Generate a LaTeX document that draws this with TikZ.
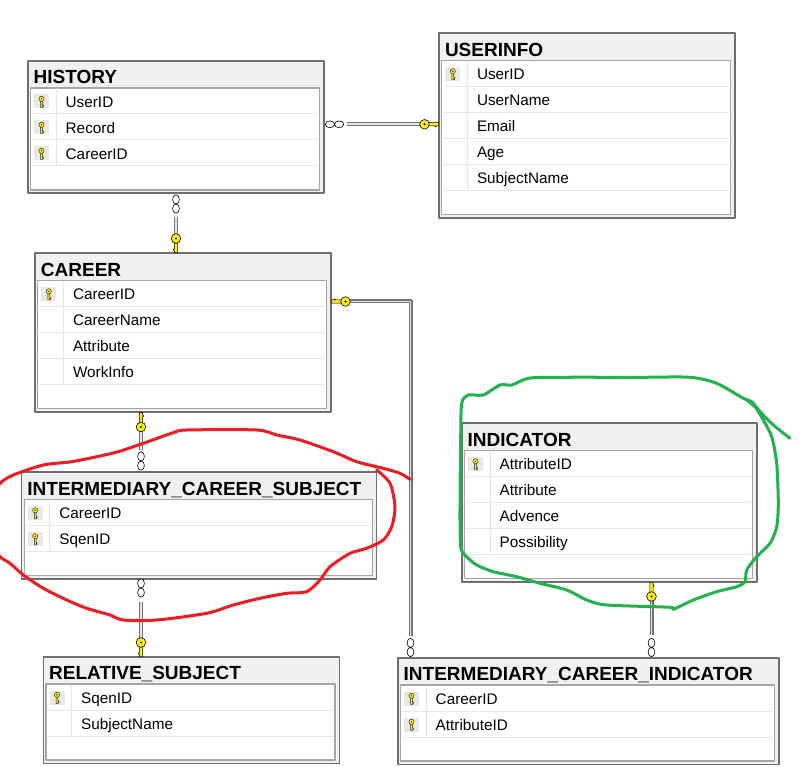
\documentclass[tikz,border=0pt]{standalone}
\usepackage{fontspec}
\setmainfont{Liberation Sans}
\usetikzlibrary{calc}
\definecolor{tbl_border}{RGB}{110,110,110}
\definecolor{title_gray}{RGB}{240,240,240}
\definecolor{inner_gray}{RGB}{165,165,165}
\definecolor{row_gray}{RGB}{230,230,230}
\definecolor{cell_gray}{RGB}{232,232,232}
\definecolor{key_yellow}{RGB}{255,240,0}
\definecolor{rel_dark}{RGB}{115,115,115}
\definecolor{rel_light}{RGB}{228,228,228}
\definecolor{pen_red}{RGB}{237,28,36}
\definecolor{pen_green}{RGB}{34,177,76}

\tikzset{
  colkey/.pic={
    \filldraw[fill=key_yellow, draw=black!85, line width=0.45]
      (-0.9,-0.8) -- (-0.9,5.6) -- (0.9,5.6) -- (2.1,4.9) -- (0.9,4.2) -- (2.1,3.4) -- (0.9,2.7) -- (0.9,-0.8) -- cycle;
    \filldraw[fill=key_yellow, draw=black!85, line width=0.45] (0,-3) circle (2.6);
    \fill[black] (0,-3) circle (0.7);
  },
  relkey/.pic={
    \filldraw[fill=key_yellow, draw=black, line width=0.6]
      (3.5,-1.6) -- (14,-1.6) -- (14.6,0) -- (13.6,1.6) -- (12,1.6) -- (11,2.6) -- (10,1.6) -- (3.5,1.6) -- cycle;
    \filldraw[fill=key_yellow, draw=black, line width=0.6] (0,0) circle (4.8);
    \fill[black] (0,0) circle (1.2);
  },
  many/.pic={
    \filldraw[fill=white, draw=black, line width=0.6] (-4.6,0) ellipse (4.6 and 3.4) (4.6,0) ellipse (4.6 and 3.4);
  }
}

% name, x, y, width, rows, title, key/field list
\newcommand{\dbtable}[7]{%
  \pgfmathsetmacro\tblH{28+26*#5+26.5}
  \node[tbl, minimum width=#4, minimum height=\tblH, anchor=north west] (#1) at (#2,#3) {};
  \node[ttl] (#1-title) at (#2+6.5,#3+23.8) {#6};
  \draw[inbox] (#2+3.5,#3+28) rectangle (#2+#4-3.5,#3+\tblH-2.5);
  \draw[rowsep] (#2+29,#3+28.5) -- (#2+29,#3+28+26*#5);
  \foreach \k/\f [count=\i] in {#7} {
    \pgfmathsetmacro\rowtop{#3+28+26*(\i-1)}
    \draw[rowsep] (#2+5,\rowtop+26) -- (#2+#4-5,\rowtop+26);
    \ifnum\k=1
      \fill[cell_gray] (#2+7,\rowtop+6.5) rectangle (#2+22,\rowtop+20.5);
      \pic at (#2+14.5,\rowtop+13.8) {colkey};
    \fi
    \node[fld] (#1-\i) at (#2+38.5,\rowtop+19.3) {\f};
  }
}

\begin{document}
\begin{tikzpicture}[x=1pt,y=-1pt,line join=round]
    \tikzstyle{tbl}=[draw=tbl_border, fill=title_gray, line width=1.6pt, inner sep=0pt]
    \tikzstyle{inbox}=[draw=inner_gray, fill=white, line width=1.2pt]
    \tikzstyle{rowsep}=[draw=row_gray, line width=1pt]
    \tikzstyle{ttl}=[anchor=base west, inner sep=0pt, font=\fontsize{19}{22}\selectfont\bfseries]
    \tikzstyle{fld}=[anchor=base west, inner sep=0pt, font=\fontsize{15.3}{18}\selectfont]
    \tikzstyle{rel}=[draw=rel_dark, line width=1.1pt, double=rel_light, double distance=1.8pt]
    \tikzstyle{pen}=[line width=3pt, line cap=round, line join=round]

    \path[use as bounding box, fill=white] (0,0) rectangle (812,767);
    \clip (0,0) rectangle (812,767);

    \dbtable{history}{27}{60}{296}{3}{HISTORY}{1/UserID, 1/Record, 1/CareerID}
    \dbtable{userinfo}{438.3}{32.5}{296}{5}{USERINFO}{1/UserID, 0/UserName, 0/Email, 0/Age, 0/SubjectName}
    \dbtable{career}{34.3}{252.5}{296}{4}{CAREER}{1/CareerID, 0/CareerName, 0/Attribute, 0/WorkInfo}
    \dbtable{ics}{20.7}{471.5}{355}{2}{INTERMEDIARY\_CAREER\_SUBJECT}{1/CareerID, 1/SqenID}
    \dbtable{rs}{42.5}{656}{296}{2}{RELATIVE\_SUBJECT}{1/SqenID, 0/SubjectName}
    \dbtable{indicator}{461}{422.5}{295}{4}{INDICATOR}{1/AttributeID, 0/Attribute, 0/Advence, 0/Possibility}
    \dbtable{ici}{397}{657}{381}{2}{INTERMEDIARY\_CAREER\_INDICATOR}{1/CareerID, 1/AttributeID}

    \coordinate (hu) at (0,124.3);
    \coordinate (hc) at (176,0);
    \coordinate (cs) at (141,0);
    \coordinate (bend) at (410.5,301.5);
    \coordinate (ii) at (651.5,0);

    \draw[rel, shorten <=22pt, shorten >=14pt] (history.east |- hu) -- (userinfo.west |- hu);
    \draw[rel, shorten <=23pt, shorten >=14pt] (history.south -| hc) -- (career.north -| hc);
    \draw[rel, shorten <=16pt, shorten >=21pt] (career.south -| cs) -- (ics.north -| cs);
    \draw[rel, shorten <=22pt, shorten >=15pt] (ics.south -| cs) -- (rs.north -| cs);
    \draw[rel, shorten <=16pt, shorten >=21pt] (career.east |- bend) -- (bend) -- (ici.north -| bend);
    \draw[rel, shorten <=15.5pt, shorten >=22pt] (indicator.south -| ii) -- (ici.north -| ii);

    \pic at (334.5,124.3) {many};
    \pic at (424.5,124.3) {relkey};
    \pic[rotate=90] at (176,204) {many};
    \pic[rotate=-90] at (176,238.5) {relkey};
    \pic[rotate=90] at (141,427) {relkey};
    \pic[rotate=90] at (141,461) {many};
    \pic[rotate=90] at (141,588) {many};
    \pic[rotate=-90] at (141,642.5) {relkey};
    \pic[rotate=180] at (345.5,301.5) {relkey};
    \pic[rotate=90] at (410.5,647.5) {many};
    \pic[rotate=90] at (651.5,596.5) {relkey};
    \pic[rotate=90] at (651.5,647.5) {many};

    \draw[pen, pen_red] plot[smooth, tension=0.45] coordinates {
      (410,479.3) (400,473.3) (383.3,468.3) (356.7,461.7) (333.3,451.7) (300,440) (276.7,435)
      (256.7,430) (186.7,430) (173.3,432.7) (143.3,443.3) (118.3,451.7) (100,456) (71.7,461.7)
      (43.3,465) (13.3,475) (0,483.3) (-12,500) (-12,540) (0,556.7) (10,563.3) (23.3,575)
      (43.3,588.3) (66.7,600) (86.7,608.3) (110,615) (123.3,620) (156.7,620) (206.7,613.3)
      (233.3,605) (260,598.3) (286.7,593.3) (306.7,591.7) (320,580) (330,566.7) (350,553.3)
      (366.7,548.3) (383.3,540) (391.7,526.7) (395,506.7) (390,483.3) (376.7,470)};
    \draw[pen, pen_green] plot[smooth, tension=0.45] coordinates {
      (790,438.3) (773.3,425) (760,411.7) (751.7,401.7) (743.3,398.3) (716.7,383.3) (690,377.3)
      (640,377.3) (556.7,377.3) (528.3,378.3) (511.7,385) (500,385) (483.3,395) (468.3,395)
      (461.7,403.3) (460.7,436.7) (460,503.3) (460.7,546.7) (466.7,556.7) (476.7,565)
      (493.3,571.7) (516.7,576.7) (540,583.3) (566.7,590) (586.7,600) (606.7,605) (670,607.3)
      (673.3,609.3) (693.3,600) (716.7,591.7) (736.7,586.7) (745,581.7) (746.7,570)
      (756.7,556.7) (770,543.3) (776.7,526.7) (778.3,503.3) (776.7,463.3) (771.7,436.7)
      (763.3,420) (756,408) (747,400)};
\end{tikzpicture}
\end{document}
